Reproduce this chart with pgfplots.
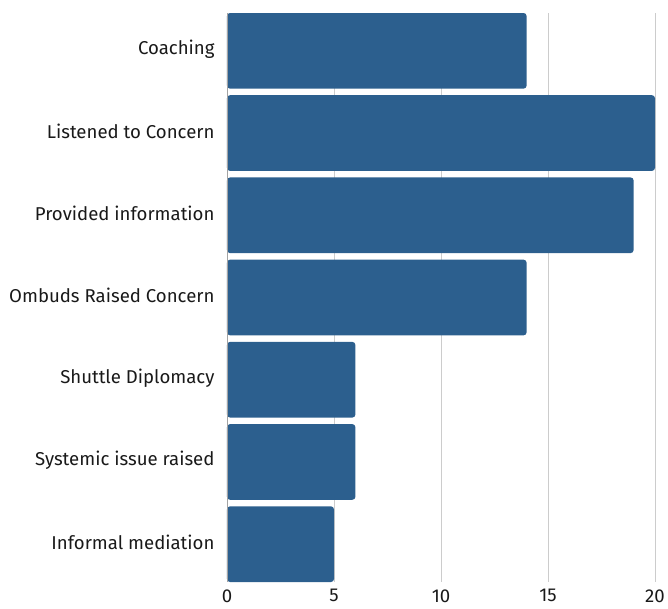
\documentclass[border=0pt]{standalone}
\usepackage{pgfplots}
\pgfplotsset{compat=1.18}
\usepackage{fontspec}
\setmainfont{Fira Sans}
\definecolor{barblue}{HTML}{2C5F8E}
\definecolor{gridgray}{HTML}{CCCCCC}
\begin{document}
\begin{tikzpicture}[x=1pt,y=1pt]
\useasboundingbox (-227,-26) rectangle (441,582);
\begin{axis}[
  at={(0,0)}, anchor=south west,
  scale only axis, width=428pt, height=569pt,
  xbar, bar width=0.92,
  xmin=0, xmax=20,
  ymin=-0.46, ymax=6.46,
  y dir=reverse,
  ytick={0,1,2,3,4,5,6},
  yticklabels={Coaching,Listened to Concern,Provided information,Ombuds Raised Concern,Shuttle Diplomacy,Systemic issue raised,Informal mediation},
  xtick={0,5,10,15,20},
  xmajorgrids, grid style={gridgray, line width=0.8pt},
  axis line style={draw=none},
  axis x line*=bottom, axis y line*=left,
  tick style={draw=none},
  major tick length=0pt,
  ticklabel style={font=\fontsize{18.6}{21}\selectfont, text=black!90},
  yticklabel style={xshift=-9pt, yshift=2pt},
  xticklabel style={yshift=-4pt},
  /pgf/number format/assume math mode=true,
  clip=false,
]
\addplot[fill=barblue, draw=none, rounded corners=3pt] coordinates {
(14,0) (20,1) (19,2) (14,3) (6,4) (6,5) (5,6)
};
\draw[gridgray!80!black, line width=0.8pt] (axis cs:0,-0.46) -- (axis cs:0,6.46);
\end{axis}
\end{tikzpicture}
\end{document}
